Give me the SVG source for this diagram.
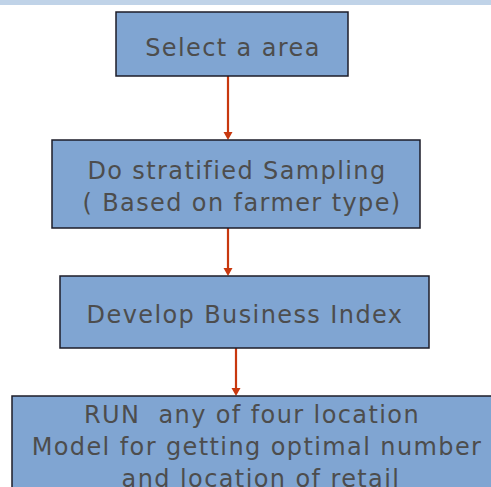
<svg xmlns="http://www.w3.org/2000/svg" width="491" height="487" viewBox="0 0 491 487">
<style>
.box{fill:#80A5D2;stroke:#1c1c28;stroke-width:1.5}
.t{font-family:"DejaVu Sans",Verdana,sans-serif;font-size:24px;letter-spacing:1.4px;fill:#4d4d4d;text-anchor:middle;white-space:pre}
.c{stroke:#C8380E;stroke-width:2.2;fill:none}
</style>
<rect x="0" y="0" width="491" height="5" fill="#C0D3E8"/>
<g id="connectors">
<line class="c" x1="228" y1="76" x2="228" y2="133"/>
<path d="M223.5,132 L232.5,132 L228,140 Z" fill="#C8380E"/>
<line class="c" x1="228" y1="220" x2="228" y2="269"/>
<path d="M223.5,268 L232.5,268 L228,276 Z" fill="#C8380E"/>
<line class="c" x1="236" y1="348" x2="236" y2="389"/>
<path d="M231.5,388 L240.5,388 L236,396 Z" fill="#C8380E"/>
</g>
<g id="n1">
<rect class="box" x="116" y="12" width="232" height="64"/>
<text class="t" x="233" y="56">Select a area</text>
</g>
<g id="n2">
<rect class="box" x="52" y="140" width="368" height="88"/>
<text class="t" x="237" y="179">Do stratified Sampling</text>
<text class="t" x="242" y="211">( Based on farmer type)</text>
</g>
<g id="n3">
<rect class="box" x="60" y="276" width="369" height="72"/>
<text class="t" x="245" y="323">Develop Business Index</text>
</g>
<g id="n4">
<rect class="box" x="12" y="396" width="490" height="100"/>
<text class="t" x="252" y="423">RUN  any of four location</text>
<text class="t" x="257" y="455">Model for getting optimal number</text>
<text class="t" x="261" y="487">and location of retail</text>
</g>
</svg>
